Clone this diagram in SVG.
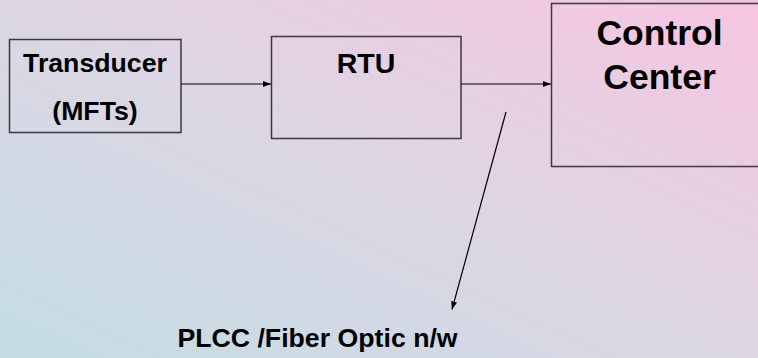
<svg xmlns="http://www.w3.org/2000/svg" width="758" height="358" viewBox="0 0 758 358">
<defs>
<linearGradient id="bg" x1="0" y1="1" x2="1" y2="0">
<stop offset="0" stop-color="#c3dde3"/>
<stop offset="0.5" stop-color="#dcd6e4"/>
<stop offset="1" stop-color="#f7c5e1"/>
</linearGradient>
<marker id="ah" markerWidth="8" markerHeight="6" refX="8" refY="3" orient="auto" markerUnits="userSpaceOnUse">
<path d="M0,0 L8,3 L0,6 Z" fill="#000"/>
</marker>
<style>
.box{fill:none;stroke:#3a3a3a;stroke-width:1.5}
.t{font-family:"Liberation Sans",Arial,sans-serif;font-weight:bold;fill:#000;text-anchor:middle}
.c{stroke:#000;stroke-width:1.2;fill:none;marker-end:url(#ah)}
</style>
</defs>
<rect width="758" height="358" fill="url(#bg)"/>
<g id="transducer">
<rect class="box" x="9.5" y="39.5" width="171.5" height="93"/>
<text class="t" x="95" y="72" font-size="26.7">Transducer</text>
<text class="t" x="95" y="120" font-size="26.7">(MFTs)</text>
</g>
<g id="rtu">
<rect class="box" x="271.5" y="36.5" width="189.5" height="102"/>
<text class="t" x="366" y="72.5" font-size="28.5">RTU</text>
</g>
<g id="control-center">
<rect class="box" x="551.5" y="3.5" width="215" height="163"/>
<text class="t" x="659.5" y="45" font-size="35.5">Control</text>
<text class="t" x="659.5" y="89" font-size="35.5">Center</text>
</g>
<g id="plcc">
<text class="t" x="317.5" y="346.5" font-size="26.7">PLCC /Fiber Optic n/w</text>
</g>
<g id="connectors">
<line class="c" x1="181" y1="84" x2="271" y2="84"/>
<line class="c" x1="461" y1="84" x2="551" y2="84"/>
<line class="c" x1="506" y1="112" x2="452" y2="309.5"/>
</g>
</svg>
